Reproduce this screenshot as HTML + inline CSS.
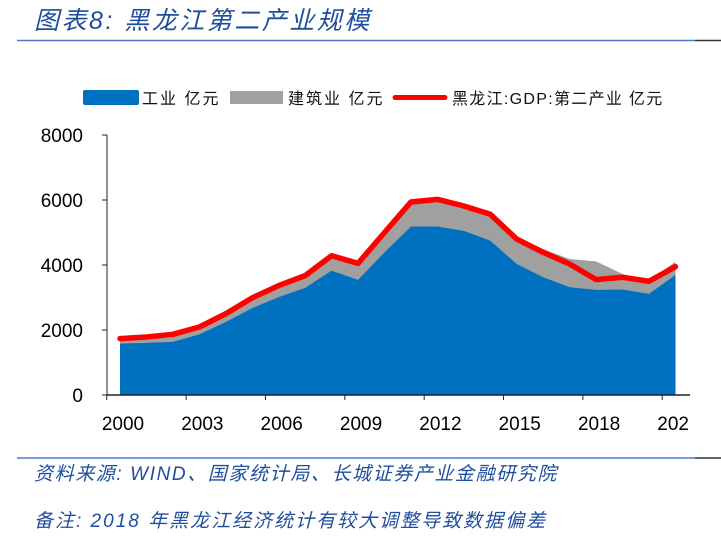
<!DOCTYPE html>
<html><head><meta charset="utf-8"><style>
body{margin:0;background:#fff;width:721px;height:539px;overflow:hidden;font-family:"Liberation Sans","Noto Sans CJK SC",sans-serif}
svg{display:block}
</style></head><body>
<svg width="721" height="539">
<defs><clipPath id="clipR"><rect x="0" y="0" width="689" height="539"/></clipPath></defs>
<text x="34" y="29" font-size="25" font-style="italic" letter-spacing="2.5" fill="#1f4e9c">图表8:  黑龙江第二产业规模</text>
<line x1="17" y1="40.5" x2="695" y2="40.5" stroke="#4a7cc4" stroke-width="1.5"/>
<line x1="695" y1="40.5" x2="721" y2="40.5" stroke="#333" stroke-width="1.5"/>
<g>
<rect x="83" y="90" width="56" height="15" rx="2" fill="#0070c0"/>
<text x="142" y="104" font-size="16" letter-spacing="2" fill="#111">工业 亿元</text>
<rect x="230" y="91" width="53" height="13" fill="#a0a0a0"/>
<text x="288" y="104" font-size="16" letter-spacing="2" fill="#111">建筑业 亿元</text>
<line x1="395" y1="97.5" x2="445" y2="97.5" stroke="#ff0000" stroke-width="5" stroke-linecap="round"/>
<text x="452" y="104" font-size="16" letter-spacing="1.3" fill="#111">黑龙江:GDP:第二产业 亿元</text>
</g>
<g id="plot"></g>
<line x1="17" y1="458" x2="695" y2="458" stroke="#4a7cc4" stroke-width="1.5"/>
<line x1="695" y1="458" x2="721" y2="458" stroke="#333" stroke-width="1.5"/>
<text x="34" y="480" font-size="19" font-style="italic" letter-spacing="1.6" fill="#1f4e9c">资料来源:  WIND、国家统计局、长城证券产业金融研究院</text>
<text x="34" y="527" font-size="19" font-style="italic" letter-spacing="2" fill="#1f4e9c">备注:  2018 年黑龙江经济统计有较大调整导致数据偏差</text>
</svg>
<script>
const years=[2000,2001,2002,2003,2004,2005,2006,2007,2008,2009,2010,2011,2012,2013,2014,2015,2016,2017,2018,2019,2020,2021];
const industry=[1582,1602,1633,1867,2245,2673,3010,3296,3827,3541,4388,5184,5184,5051,4745,4031,3622,3316,3235,3245,3112,3694];
const construction=[140,170,220,215,245,305,345,365,445,495,600,745,826,755,806,816,868,868,877,479,408,408];
const gdpSecond=[1735,1786,1867,2092,2500,2990,3367,3673,4286,4051,5000,5939,6020,5816,5561,4796,4388,4031,3551,3622,3500,3949];
const yTicks=[0,2000,4000,6000,8000];
const xLabels=["2000","2003","2006","2009","2012","2015","2018","2021"];
const NS="http://www.w3.org/2000/svg";
const g=document.getElementById('plot');
const x0=120,step=26.45,yBase=395,pxPer=32.5/1000;
const X=i=>x0+i*step, Y=v=>yBase-v*pxPer;
function mk(t,a){const e=document.createElementNS(NS,t);for(const k in a)e.setAttribute(k,a[k]);g.appendChild(e);return e;}
const stackTop=industry.map((v,i)=>v+construction[i]);
let dG="M"+X(0)+","+Y(0);stackTop.forEach((v,i)=>dG+=" L"+X(i)+","+Y(v));dG+=" L"+X(years.length-1)+","+Y(0)+"Z";
const ag=mk('path',{d:dG,fill:'#a0a0a0'});


let dB="M"+X(0)+","+Y(0);industry.forEach((v,i)=>dB+=" L"+X(i)+","+Y(v));dB+=" L"+X(years.length-1)+","+Y(0)+"Z";
const ab=mk('path',{d:dB,fill:'#0070c0'});


const ln=mk('polyline',{points:gdpSecond.map((v,i)=>X(i)+","+Y(v)).join(" "),fill:'none',stroke:'#ff0000','stroke-width':5.5,'stroke-linejoin':'round','stroke-linecap':'round'});


const ya=mk('line',{x1:107,y1:Y(8000),x2:107,y2:yBase,stroke:'#222','stroke-width':1});


const xa=mk('line',{x1:107,y1:yBase,x2:690,y2:yBase,stroke:'#222','stroke-width':1.5});


yTicks.forEach(v=>{
 mk('line',{x1:102,y1:Y(v),x2:107,y2:Y(v),stroke:'#222'});
 const t=mk('text',{x:83,y:Y(v)+7,'font-size':19,'text-anchor':'end',fill:'#000'});t.textContent=v;
 
 
});
xLabels.forEach((lab,j)=>{
 const i=j*3;
 mk('line',{x1:X(i)-step/2,y1:yBase,x2:X(i)-step/2,y2:yBase+5,stroke:'#222'});
 const t=mk('text',{x:X(i)+3,y:430,'font-size':19,'text-anchor':'middle',fill:'#000','clip-path':'url(#clipR)'});t.textContent=lab;
 
 
});
</script>
</body></html>
